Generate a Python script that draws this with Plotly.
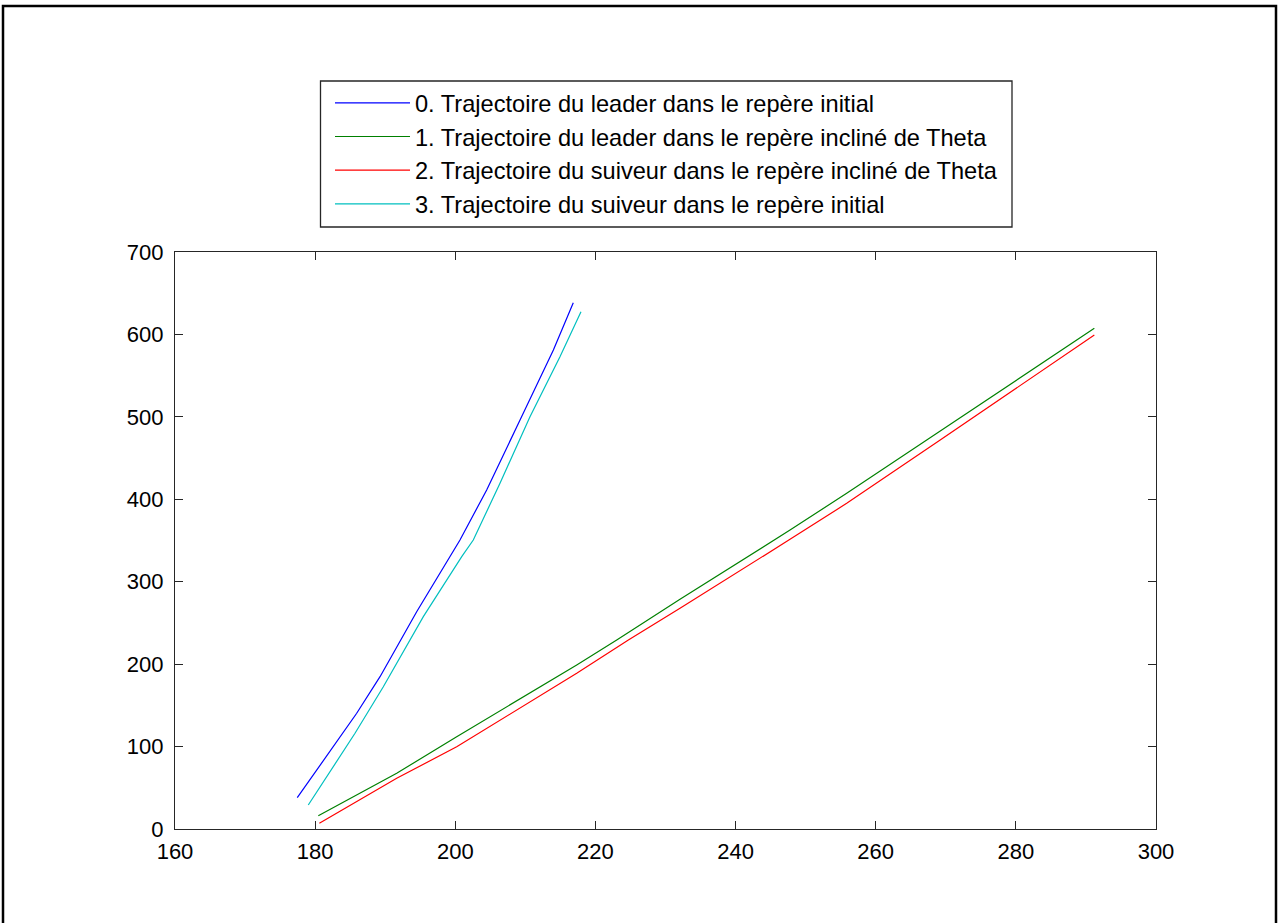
import plotly.graph_objects as go

# Series data
leader_init_x = [177.45, 185.93, 189.26, 194.49, 200.67, 204.48, 209.24, 214.0, 216.84]
leader_init_y = [38.0, 140.4, 184.8, 263.6, 350.6, 411.3, 496.2, 581.1, 638.5]

leader_incl_x = [180.45, 191.64, 200.2, 217.33, 223.04, 232.07, 247.77, 255.86, 267.28, 291.2]
leader_incl_y = [16.1, 67.6, 112.0, 199.0, 229.3, 278.6, 362.7, 407.3, 471.9, 607.4]

suiveur_incl_x = [180.6, 191.64, 200.2, 217.33, 224.7, 232.07, 247.77, 255.86, 269.2, 291.2]
suiveur_incl_y = [6.9, 61.5, 99.8, 188.9, 229.3, 267.7, 351.4, 395.1, 471.9, 599.3]

suiveur_init_x = [179.02, 185.69, 189.73, 195.44, 200.92, 202.57, 206.38, 210.66, 214.94, 217.94]
suiveur_init_y = [29.1, 116.1, 172.6, 257.6, 330.4, 350.6, 419.4, 500.2, 573.0, 627.6]

names = [
    "0. Trajectoire du leader dans le repère initial",
    "1. Trajectoire du leader dans le repère incliné de Theta",
    "2. Trajectoire du suiveur dans le repère incliné de Theta",
    "3. Trajectoire du suiveur dans le repère initial",
]
colors = ["#0000ff", "#008000", "#ff0000", "#00bfbf"]

x_ticks = [160, 180, 200, 220, 240, 260, 280, 300]
y_ticks = [0, 100, 200, 300, 400, 500, 600, 700]

series = [
    (leader_init_x, leader_init_y),
    (leader_incl_x, leader_incl_y),
    (suiveur_incl_x, suiveur_incl_y),
    (suiveur_init_x, suiveur_init_y),
]

fig = go.Figure()
for (xs, ys), name, col in zip(series, names, colors):
    fig.add_trace(go.Scatter(x=xs, y=ys, mode="lines", name=name,
                             line=dict(color=col, width=1.2)))

W, H = 1280, 923
FONT = "Liberation Sans, Arial, sans-serif"
axis_common = dict(showline=True, linecolor="#262626", linewidth=1.3, mirror="ticks",
                   ticks="inside", ticklen=8, tickcolor="#262626", tickwidth=1.3,
                   showgrid=False, zeroline=False, automargin=False,
                   tickfont=dict(family=FONT, size=22, color="#000000"))

fig.update_layout(
    width=W, height=H,
    margin=dict(l=0, r=0, t=0, b=0, pad=0, autoexpand=False),
    paper_bgcolor="white", plot_bgcolor="white",
    font=dict(family=FONT, color="#000000"),
    xaxis=dict(range=[160, 300], tickvals=x_ticks, domain=[175 / W, 1156 / W],
               ticklabelstandoff=2, **axis_common),
    yaxis=dict(range=[0, 700], tickvals=y_ticks,
               domain=[(H - 829) / H, (H - 252) / H],
               ticklabelstandoff=6, **axis_common),
    legend=dict(x=330 / W, y=(H - 81) / H, xanchor="left", yanchor="top",
                bgcolor="rgba(0,0,0,0)", borderwidth=0,
                font=dict(family=FONT, size=23.6, color="#000000"),
                itemwidth=75, tracegroupgap=0),
    showlegend=True,
    shapes=[
        # outer figure frame
        dict(type="rect", xref="paper", yref="paper",
             x0=3 / W, x1=1276 / W, y0=-0.02, y1=(H - 6) / H,
             line=dict(color="black", width=2.5), fillcolor="rgba(0,0,0,0)",
             layer="below"),
        # legend box
        dict(type="rect", xref="paper", yref="paper",
             x0=320.5 / W, x1=1012 / W, y0=(H - 227) / H, y1=(H - 81) / H,
             line=dict(color="#262626", width=1.3), fillcolor="white",
             layer="below"),
    ],
)

fig.write_html("out.html", config={"displayModeBar": False},
               post_script="document.body.style.margin='0';")
